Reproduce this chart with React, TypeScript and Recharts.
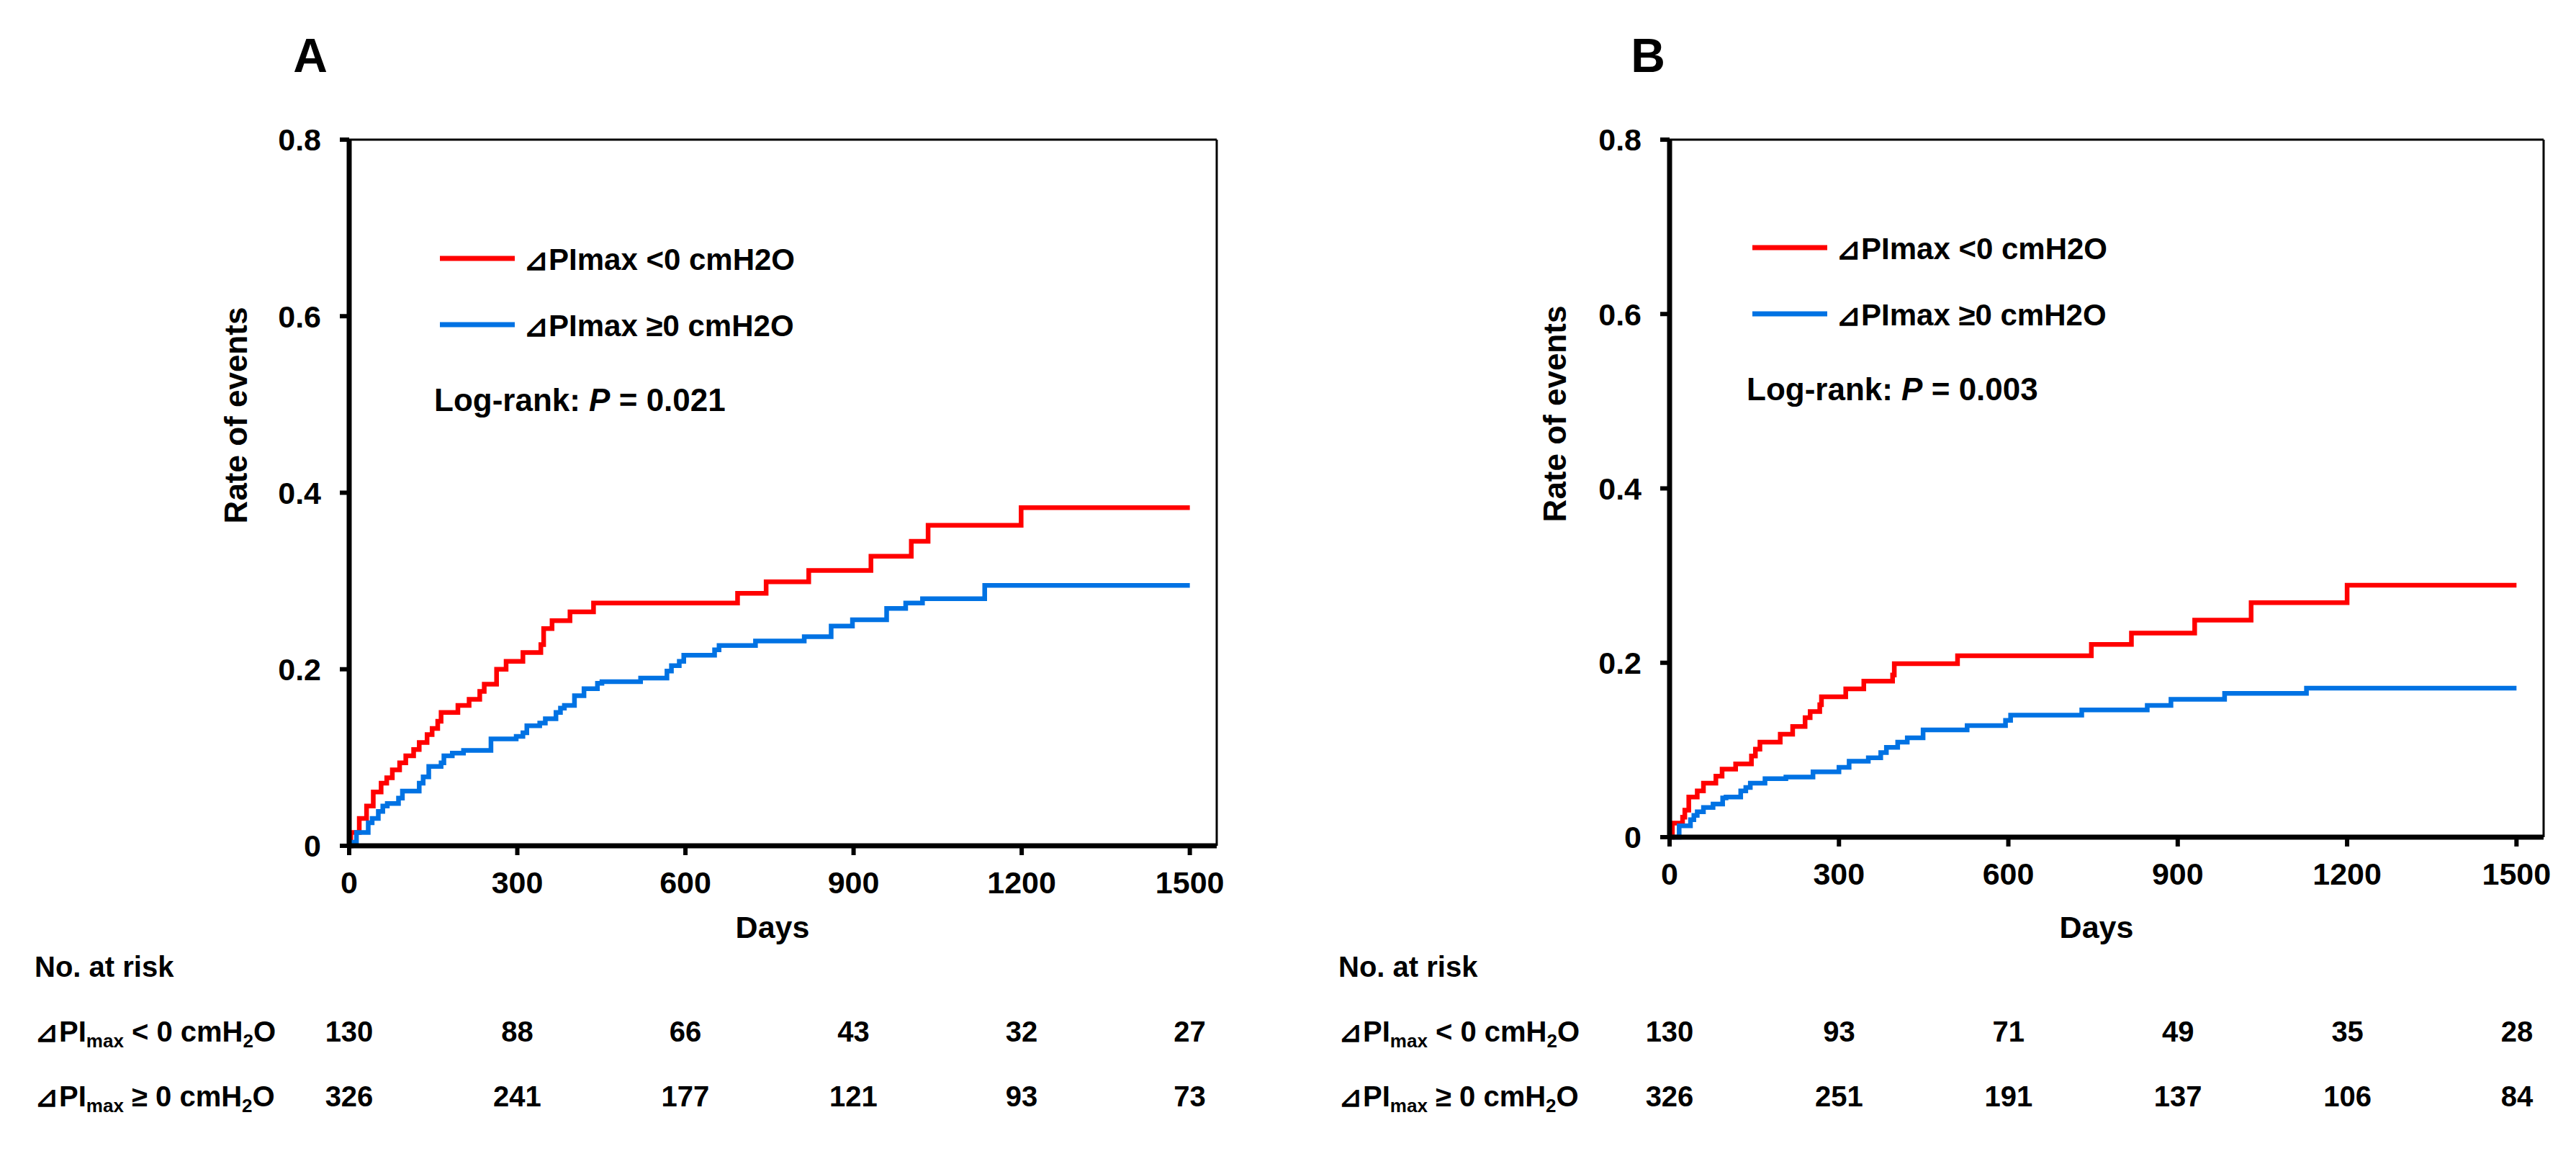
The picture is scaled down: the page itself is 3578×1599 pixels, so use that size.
import { LineChart, Line, XAxis, YAxis, ReferenceLine } from "recharts";

const FONT = "'Liberation Sans', Arial, Helvetica, sans-serif";
const RED = "#FF0000";
const BLUE = "#0072E3";

const X_MAX = 1548;
const X_TICKS = [0, 300, 600, 900, 1200, 1500];
const Y_TICKS = [0, 0.2, 0.4, 0.6, 0.8];

// panel A
const aRedDays = [0, 3, 18, 31, 43, 57, 67, 77, 90, 101, 115, 125, 139, 148, 158, 164, 194, 214, 233, 241, 263, 280, 310, 342, 347, 362, 394, 436, 693, 744, 820, 931, 1003, 1033, 1199, 1500];
const aRedRate = [0, 0.015, 0.031, 0.045, 0.061, 0.071, 0.077, 0.086, 0.094, 0.102, 0.109, 0.117, 0.126, 0.133, 0.141, 0.151, 0.159, 0.166, 0.175, 0.183, 0.2, 0.209, 0.219, 0.228, 0.246, 0.255, 0.265, 0.275, 0.286, 0.299, 0.312, 0.328, 0.345, 0.363, 0.383, 0.383];
const aBlueDays = [0, 3, 13, 34, 41, 52, 60, 68, 88, 95, 125, 132, 142, 164, 169, 184, 204, 253, 298, 310, 317, 340, 350, 369, 377, 384, 402, 419, 443, 451, 520, 567, 575, 589, 597, 652, 660, 725, 812, 860, 898, 959, 993, 1023, 1134, 1500];
const aBlueRate = [0, 0.004, 0.015, 0.026, 0.031, 0.039, 0.045, 0.048, 0.054, 0.062, 0.071, 0.078, 0.09, 0.094, 0.102, 0.105, 0.108, 0.121, 0.124, 0.128, 0.136, 0.139, 0.144, 0.151, 0.156, 0.159, 0.17, 0.178, 0.184, 0.186, 0.19, 0.198, 0.204, 0.209, 0.216, 0.222, 0.227, 0.232, 0.237, 0.249, 0.256, 0.269, 0.275, 0.28, 0.295, 0.295];

// panel B
const bRedDays = [0, 5, 23, 27, 34, 49, 60, 82, 93, 117, 145, 152, 160, 196, 218, 240, 249, 266, 269, 312, 344, 395, 398, 510, 747, 818, 930, 1030, 1200, 1500];
const bRedRate = [0, 0.016, 0.023, 0.031, 0.046, 0.053, 0.062, 0.07, 0.078, 0.084, 0.093, 0.101, 0.109, 0.118, 0.127, 0.137, 0.144, 0.152, 0.161, 0.17, 0.179, 0.186, 0.199, 0.208, 0.221, 0.234, 0.249, 0.269, 0.289, 0.289];
const bBlueDays = [0, 17, 37, 43, 49, 60, 77, 94, 100, 126, 135, 143, 169, 206, 254, 300, 318, 352, 374, 384, 404, 421, 449, 527, 595, 604, 730, 846, 888, 983, 1128, 1500];
const bBlueRate = [0, 0.013, 0.02, 0.025, 0.029, 0.034, 0.038, 0.045, 0.046, 0.053, 0.057, 0.062, 0.067, 0.069, 0.075, 0.08, 0.087, 0.091, 0.097, 0.103, 0.109, 0.114, 0.123, 0.128, 0.134, 0.14, 0.146, 0.151, 0.158, 0.165, 0.171, 0.171];

// numbers at risk
const aRiskNeg = [130, 88, 66, 43, 32, 27];
const aRiskPos = [326, 241, 177, 121, 93, 73];
const bRiskNeg = [130, 93, 71, 49, 35, 28];
const bRiskPos = [326, 251, 191, 137, 106, 84];

const zip = (days: number[], rates: number[]) =>
  days.map((d, i) => ({ day: d, rate: rates[i] }));

const fmtY = (v: number) => (v === 0 ? "0" : v.toFixed(1));

const tickStyle = { fill: "#000", fontSize: 43, fontWeight: 700, fontFamily: FONT };

interface PanelProps {
  left: number;
  width: number;
  margin: { top: number; right: number; bottom: number; left: number };
  red: { day: number; rate: number }[];
  blue: { day: number; rate: number }[];
}

function KMPanel({ left, width, margin, red, blue }: PanelProps) {
  return (
    <div style={{ position: "absolute", left, top: 0 }}>
      <LineChart width={width} height={1599} margin={margin}>
        <XAxis
          type="number"
          dataKey="day"
          domain={[0, X_MAX]}
          ticks={X_TICKS}
          interval={0}
          height={60}
          tickSize={13}
          tickMargin={22}
          axisLine={{ stroke: "#000", strokeWidth: 7 }}
          tickLine={{ stroke: "#000", strokeWidth: 6 }}
          tick={tickStyle}
        />
        <YAxis
          type="number"
          domain={[0, 0.8]}
          ticks={Y_TICKS}
          interval={0}
          width={100}
          tickSize={13}
          tickMargin={26}
          tickFormatter={fmtY}
          axisLine={{ stroke: "#000", strokeWidth: 7 }}
          tickLine={{ stroke: "#000", strokeWidth: 6 }}
          tick={tickStyle}
        />
        <ReferenceLine y={0.8} stroke="#000" strokeWidth={3} />
        <ReferenceLine x={X_MAX} stroke="#000" strokeWidth={3} />
        <Line
          data={red}
          dataKey="rate"
          type="stepAfter"
          stroke={RED}
          strokeWidth={6.5}
          dot={false}
          activeDot={false}
          isAnimationActive={false}
        />
        <Line
          data={blue}
          dataKey="rate"
          type="stepAfter"
          stroke={BLUE}
          strokeWidth={6.5}
          dot={false}
          activeDot={false}
          isAnimationActive={false}
        />
      </LineChart>
    </div>
  );
}

function RiskLabel({ x, y, sign }: { x: number; y: number; sign: string }) {
  return (
    <text x={x} y={y} fontSize={40} fontWeight={700}>
      ⊿PI<tspan fontSize={26} dy={8}>max</tspan>
      <tspan dy={-8}> {sign} 0 cmH</tspan>
      <tspan fontSize={26} dy={8}>2</tspan>
      <tspan dy={-8}>O</tspan>
    </text>
  );
}

function Overlay({
  letter, letterX, yTitleX, yTitleY, legX, legY, pText, daysX,
  tableX, plotLeft, pxPerDay, riskNeg, riskPos,
}: {
  letter: string; letterX: number; yTitleX: number; yTitleY: number;
  legX: number; legY: number; pText: string; daysX: number;
  tableX: number; plotLeft: number; pxPerDay: number;
  riskNeg: number[]; riskPos: number[];
}) {
  return (
    <g fontFamily={FONT} fill="#000">
      <text x={letterX} y={100} fontSize={66} fontWeight={700} textAnchor="middle">{letter}</text>
      <text
        x={yTitleX}
        y={yTitleY}
        transform={`rotate(-90 ${yTitleX} ${yTitleY})`}
        fontSize={44}
        fontWeight={700}
        textAnchor="middle"
        dominantBaseline="central"
      >
        Rate of events
      </text>
      <line x1={legX} x2={legX + 104} y1={legY} y2={legY} stroke={RED} strokeWidth={7} />
      <text x={legX + 116} y={legY + 16} fontSize={42} fontWeight={700}>⊿PImax &lt;0 cmH2O</text>
      <line x1={legX} x2={legX + 104} y1={legY + 92} y2={legY + 92} stroke={BLUE} strokeWidth={7} />
      <text x={legX + 116} y={legY + 108} fontSize={42} fontWeight={700}>⊿PImax ≥0 cmH2O</text>
      <text x={legX - 8} y={legY + 212} fontSize={44} fontWeight={700}>
        Log-rank: <tspan fontStyle="italic">P</tspan> = {pText}
      </text>
      <text x={daysX} y={1303} fontSize={43} fontWeight={700} textAnchor="middle">Days</text>
      <text x={tableX} y={1357} fontSize={40} fontWeight={700}>No. at risk</text>
      <RiskLabel x={tableX} y={1447} sign="<" />
      <RiskLabel x={tableX} y={1537} sign="≥" />
      {riskNeg.map((n, i) => (
        <text key={"n" + i} x={plotLeft + X_TICKS[i] * pxPerDay} y={1447} fontSize={40} fontWeight={700} textAnchor="middle">{n}</text>
      ))}
      {riskPos.map((n, i) => (
        <text key={"p" + i} x={plotLeft + X_TICKS[i] * pxPerDay} y={1537} fontSize={40} fontWeight={700} textAnchor="middle">{n}</text>
      ))}
    </g>
  );
}

export default function App() {
  return (
    <div
      style={{
        position: "absolute",
        left: 0,
        top: 0,
        width: 3578,
        height: 1599,
        background: "#fff",
        overflow: "hidden",
        fontFamily: FONT,
      }}
    >
      <KMPanel
        left={0}
        width={1800}
        margin={{ top: 194, right: 110, bottom: 364, left: 385 }}
        red={zip(aRedDays, aRedRate)}
        blue={zip(aBlueDays, aBlueRate)}
      />
      <KMPanel
        left={1800}
        width={1778}
        margin={{ top: 194, right: 45, bottom: 376, left: 419 }}
        red={zip(bRedDays, bRedRate)}
        blue={zip(bBlueDays, bBlueRate)}
      />
      <svg
        width={3578}
        height={1599}
        style={{ position: "absolute", left: 0, top: 0, pointerEvents: "none" }}
      >
        <Overlay
          letter="A" letterX={431} yTitleX={327} yTitleY={577}
          legX={611} legY={359} pText="0.021" daysX={1073}
          tableX={48} plotLeft={485} pxPerDay={0.7783}
          riskNeg={aRiskNeg} riskPos={aRiskPos}
        />
        <Overlay
          letter="B" letterX={2289} yTitleX={2159} yTitleY={575}
          legX={2434} legY={344} pText="0.003" daysX={2912}
          tableX={1859} plotLeft={2319} pxPerDay={0.7847}
          riskNeg={bRiskNeg} riskPos={bRiskPos}
        />
      </svg>
    </div>
  );
}
